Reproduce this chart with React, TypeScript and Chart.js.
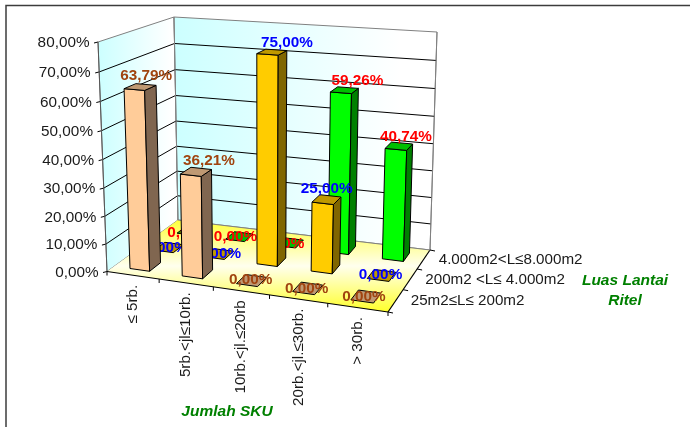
import React, { useEffect, useRef } from "react";
import { Chart, registerables } from "chart.js";

Chart.register(...registerables);

const categories = ["≤ 5rb.", "5rb.<jl≤10rb.", "10rb.<jl.≤20rb", "20rb.<jl.≤30rb.", "> 30rb."];
const floorAreas = ["25m2≤L≤ 200m2", "200m2 <L≤ 4.000m2", "4.000m2<L≤8.000m2"];
const smallRetail = [63.79, 36.21, 0, 0, 0];
const mediumRetail = [0, 0, 75, 25, 0];
const largeRetail = [0, 0, 0, 59.26, 40.74];

const FONT = '"Liberation Sans", Arial, sans-serif';
const DARK = "#1a1a1a";

// Screen positions of the eight corners of the oblique plot box.
// Index order: [depth 0 = front, depth 1 = back][width 0 = left, width 1 = right][height 0, height 1]
const BOX = [
  [[[107, 271.5], [98, 42]], [[388, 312], [397, 64]]],
  [[[178, 220], [174, 17]], [[430, 250], [437, 32]]],
];

// Foreshortening of each axis: nearer parts take up more of the picture.
const WARP = { u: -0.09, v: -0.05, z: 0.12 };
const warp = (t: number, k: number) => t + k * t * (1 - t);

function project(u: number, v: number, z: number): [number, number] {
  const a = warp(u, WARP.u);
  const b = warp(v, WARP.v);
  const c = warp(z, WARP.z);
  const out: [number, number] = [0, 0];
  for (let axis = 0; axis < 2; axis++) {
    const mix = (d: number) => {
      const left = BOX[d][0][0][axis] * (1 - b) + BOX[d][0][1][axis] * b;
      const right = BOX[d][1][0][axis] * (1 - b) + BOX[d][1][1][axis] * b;
      return left * (1 - a) + right * a;
    };
    out[axis] = mix(0) * (1 - c) + mix(1) * c;
  }
  return out;
}

type Pt = [number, number];

function poly(ctx: CanvasRenderingContext2D, pts: Pt[], fill: string | CanvasGradient | null, stroke: string | null, lw = 1) {
  ctx.beginPath();
  pts.forEach((p, i) => (i ? ctx.lineTo(p[0], p[1]) : ctx.moveTo(p[0], p[1])));
  ctx.closePath();
  if (fill) {
    ctx.fillStyle = fill;
    ctx.fill();
  }
  if (stroke) {
    ctx.strokeStyle = stroke;
    ctx.lineWidth = lw;
    ctx.lineJoin = "round";
    ctx.stroke();
  }
}

function line(ctx: CanvasRenderingContext2D, a: Pt, b: Pt, color: string, lw = 1) {
  ctx.beginPath();
  ctx.moveTo(a[0], a[1]);
  ctx.lineTo(b[0], b[1]);
  ctx.strokeStyle = color;
  ctx.lineWidth = lw;
  ctx.stroke();
}

const percent = (v: number) => `${v.toFixed(2).replace(".", ",")}%`;

// Fractions of a category cell / depth cell taken up by a column.
const COLUMN_WIDTH = 0.38;
const COLUMN_DEPTH = 0.45;

const normalisers = (chart: any) => {
  const { x, y, z } = chart.scales;
  return {
    u: (c: number) => (x.getPixelForValue(c) - x.left) / x.width,
    v: (val: number) => (y.bottom - y.getPixelForValue(val)) / y.height,
    d: (s: number) => (z.getPixelForValue(s) - z.left) / z.width,
  };
};

const box3d = {
  id: "box3d",
  beforeDatasetsDraw(chart: any) {
    const { ctx } = chart;
    const { u, v, d } = normalisers(chart);
    const yTicks = chart.scales.y.ticks;
    ctx.save();

    // Frame round the drawing
    ctx.strokeStyle = "#3c3c3c";
    ctx.lineWidth = 1.5;
    ctx.strokeRect(6, 5.5, 760, 500);

    const leftFill = ctx.createLinearGradient(98, 0, 172, 0);
    leftFill.addColorStop(0, "#ccffff");
    leftFill.addColorStop(1, "#ffffff");
    poly(ctx, [project(0, 0, 0), project(0, 1, 0), project(0, 1, 1), project(0, 0, 1)], leftFill, "#808080");

    const backFill = ctx.createLinearGradient(174, 0, 400, 0);
    backFill.addColorStop(0, "#ccffff");
    backFill.addColorStop(1, "#ffffff");
    poly(ctx, [project(0, 0, 1), project(0, 1, 1), project(1, 1, 1), project(1, 0, 1)], backFill, "#808080");

    const floorFill = ctx.createLinearGradient(0, 218, 0, 314);
    floorFill.addColorStop(0, "#ffff33");
    floorFill.addColorStop(0.5, "#ffffee");
    floorFill.addColorStop(1, "#ffff22");
    poly(ctx, [project(0, 0, 0), project(1, 0, 0), project(1, 0, 1), project(0, 0, 1)], floorFill, null);

    // Gridlines, y ticks and their labels
    ctx.font = `15.3px ${FONT}`;
    ctx.textAlign = "right";
    ctx.textBaseline = "middle";
    yTicks.forEach((t: any) => {
      const h = v(t.value);
      const front = project(0, h, 0);
      if (t.value > 0 && t.value < 80) {
        line(ctx, front, project(0, h, 1), "#000000");
        line(ctx, project(0, h, 1), project(1, h, 1), "#000000");
      }
      line(ctx, [front[0] - 4, front[1] + 1], front, "#000000");
      ctx.fillStyle = DARK;
      ctx.fillText(t.label, front[0] - 8.5, front[1] + 1);
    });

    // Floor edges, depth and category ticks
    line(ctx, project(0, 0, 0), project(0, 1, 0), "#555555");
    line(ctx, project(0, 0, 0), project(1, 0, 0), "#000000", 1.2);
    line(ctx, project(1, 0, 0), project(1, 0, 1), "#000000", 1.2);
    line(ctx, project(0, 0, 1), project(1, 0, 1), "#808080");
    line(ctx, project(1, 0, 1), project(1, 1, 1), "#808080");
    line(ctx, project(0, 0, 1), project(0, 1, 1), "#808080");
    for (let i = 0; i <= categories.length; i++) {
      const p = project(i / categories.length, 0, 0);
      line(ctx, p, [p[0], p[1] + 4], "#000000");
    }
    for (let j = 0; j <= floorAreas.length; j++) {
      const p = project(1, 0, j / floorAreas.length);
      line(ctx, p, [p[0] + 5, p[1] + 1], "#000000");
    }

    // Category labels, read upward and hanging from the front edge
    categories.forEach((label, i) => {
      const p = project(u(i), 0, 0);
      ctx.save();
      ctx.translate(p[0], p[1] + 9.5);
      ctx.rotate(-Math.PI / 2);
      ctx.textAlign = "right";
      ctx.textBaseline = "middle";
      ctx.font = `15.2px ${FONT}`;
      ctx.fillStyle = DARK;
      ctx.fillText(label, 0, 0);
      ctx.restore();
    });

    // Depth labels beside the right edge of the floor
    floorAreas.forEach((label, j) => {
      const p = project(1, 0, d(j));
      ctx.font = `15.2px ${FONT}`;
      ctx.textAlign = "left";
      ctx.textBaseline = "middle";
      ctx.fillStyle = DARK;
      ctx.fillText(label, p[0] + 15, p[1] + 0.5);
    });

    // Axis titles
    ctx.font = `bold italic 15.5px ${FONT}`;
    ctx.fillStyle = "#008000";
    ctx.textAlign = "center";
    ctx.fillText("Jumlah SKU", 227, 412);
    ctx.fillText("Luas Lantai", 625, 281);
    ctx.fillText("Ritel", 625, 301);
    ctx.restore();
  },
  beforeDatasetDraw(chart: any, args: any) {
    const { ctx } = chart;
    const ds = chart.data.datasets[args.index];
    const { u, v, d } = normalisers(chart);
    const s = args.index;
    const points = ds.data as number[];
    ctx.save();
    points.forEach((value, i) => {
      const u0 = u(i - COLUMN_WIDTH / 2);
      const u1 = u(i + COLUMN_WIDTH / 2);
      const z0 = d(s - COLUMN_DEPTH / 2);
      const z1 = d(s + COLUMN_DEPTH / 2);
      const h = v(value);
      if (value > 0) {
        poly(ctx, [project(u0, 0, z0), project(u1, 0, z0), project(u1, h, z0), project(u0, h, z0)], ds.backgroundColor, "#000000");
        poly(ctx, [project(u1, 0, z0), project(u1, 0, z1), project(u1, h, z1), project(u1, h, z0)], ds.sideColor, "#000000");
      }
      poly(ctx, [project(u0, h, z0), project(u1, h, z0), project(u1, h, z1), project(u0, h, z1)], ds.topColor, "#000000");
    });
    ctx.font = `bold 15.3px ${FONT}`;
    ctx.textAlign = "center";
    ctx.textBaseline = "middle";
    ctx.fillStyle = ds.labelColor;
    points.forEach((value, i) => {
      const top = project(u(i), v(value), d(s));
      const nudge = ds.labelNudge[i];
      ctx.fillText(percent(value), top[0] + nudge[0], top[1] + nudge[1]);
    });
    ctx.restore();
    return false;
  },
};

export default function App() {
  const ref = useRef<HTMLCanvasElement | null>(null);
  useEffect(() => {
    if (!ref.current) return;
    const chart = new Chart(ref.current, {
      type: "bar",
      data: {
        labels: categories,
        datasets: [
          {
            label: floorAreas[0],
            data: smallRetail,
            backgroundColor: "#ffcc99",
            sideColor: "#806650",
            topColor: "#bf9973",
            labelColor: "#a0440f",
            labelNudge: [[6, -11], [13, -11], [-1, -1], [-1, 0], [-2, 0]],
          },
          {
            label: floorAreas[1],
            data: mediumRetail,
            backgroundColor: "#ffcc00",
            sideColor: "#806600",
            topColor: "#bf9900",
            labelColor: "#0000ff",
            labelNudge: [[-3, 0], [0, 0], [15, -9], [0, -11], [-1, -1]],
          },
          {
            label: floorAreas[2],
            data: largeRetail,
            backgroundColor: "#00ff00",
            sideColor: "#008000",
            topColor: "#00bf00",
            labelColor: "#ff0000",
            labelNudge: [[-2, 2], [-4, 0], [-7, 1], [13, -9], [7, -9]],
          },
        ] as any,
      },
      options: {
        animation: false,
        responsive: false,
        plugins: { legend: { display: false }, tooltip: { enabled: false } },
        layout: { padding: 0 },
        scales: {
          x: { type: "category", display: false, offset: true },
          y: {
            type: "linear",
            display: false,
            min: 0,
            max: 80,
            ticks: { stepSize: 10, callback: (v: any) => percent(Number(v)) },
          },
          z: { type: "category", axis: "x", position: "bottom", labels: floorAreas, display: false, offset: true },
        } as any,
      },
      plugins: [box3d],
    });
    return () => chart.destroy();
  }, []);
  return (
    <div style={{ position: "absolute", left: 0, top: 0, width: 690, height: 427, overflow: "hidden", background: "#ffffff" }}>
      <canvas ref={ref} width={690} height={427} style={{ display: "block" }} />
    </div>
  );
}
